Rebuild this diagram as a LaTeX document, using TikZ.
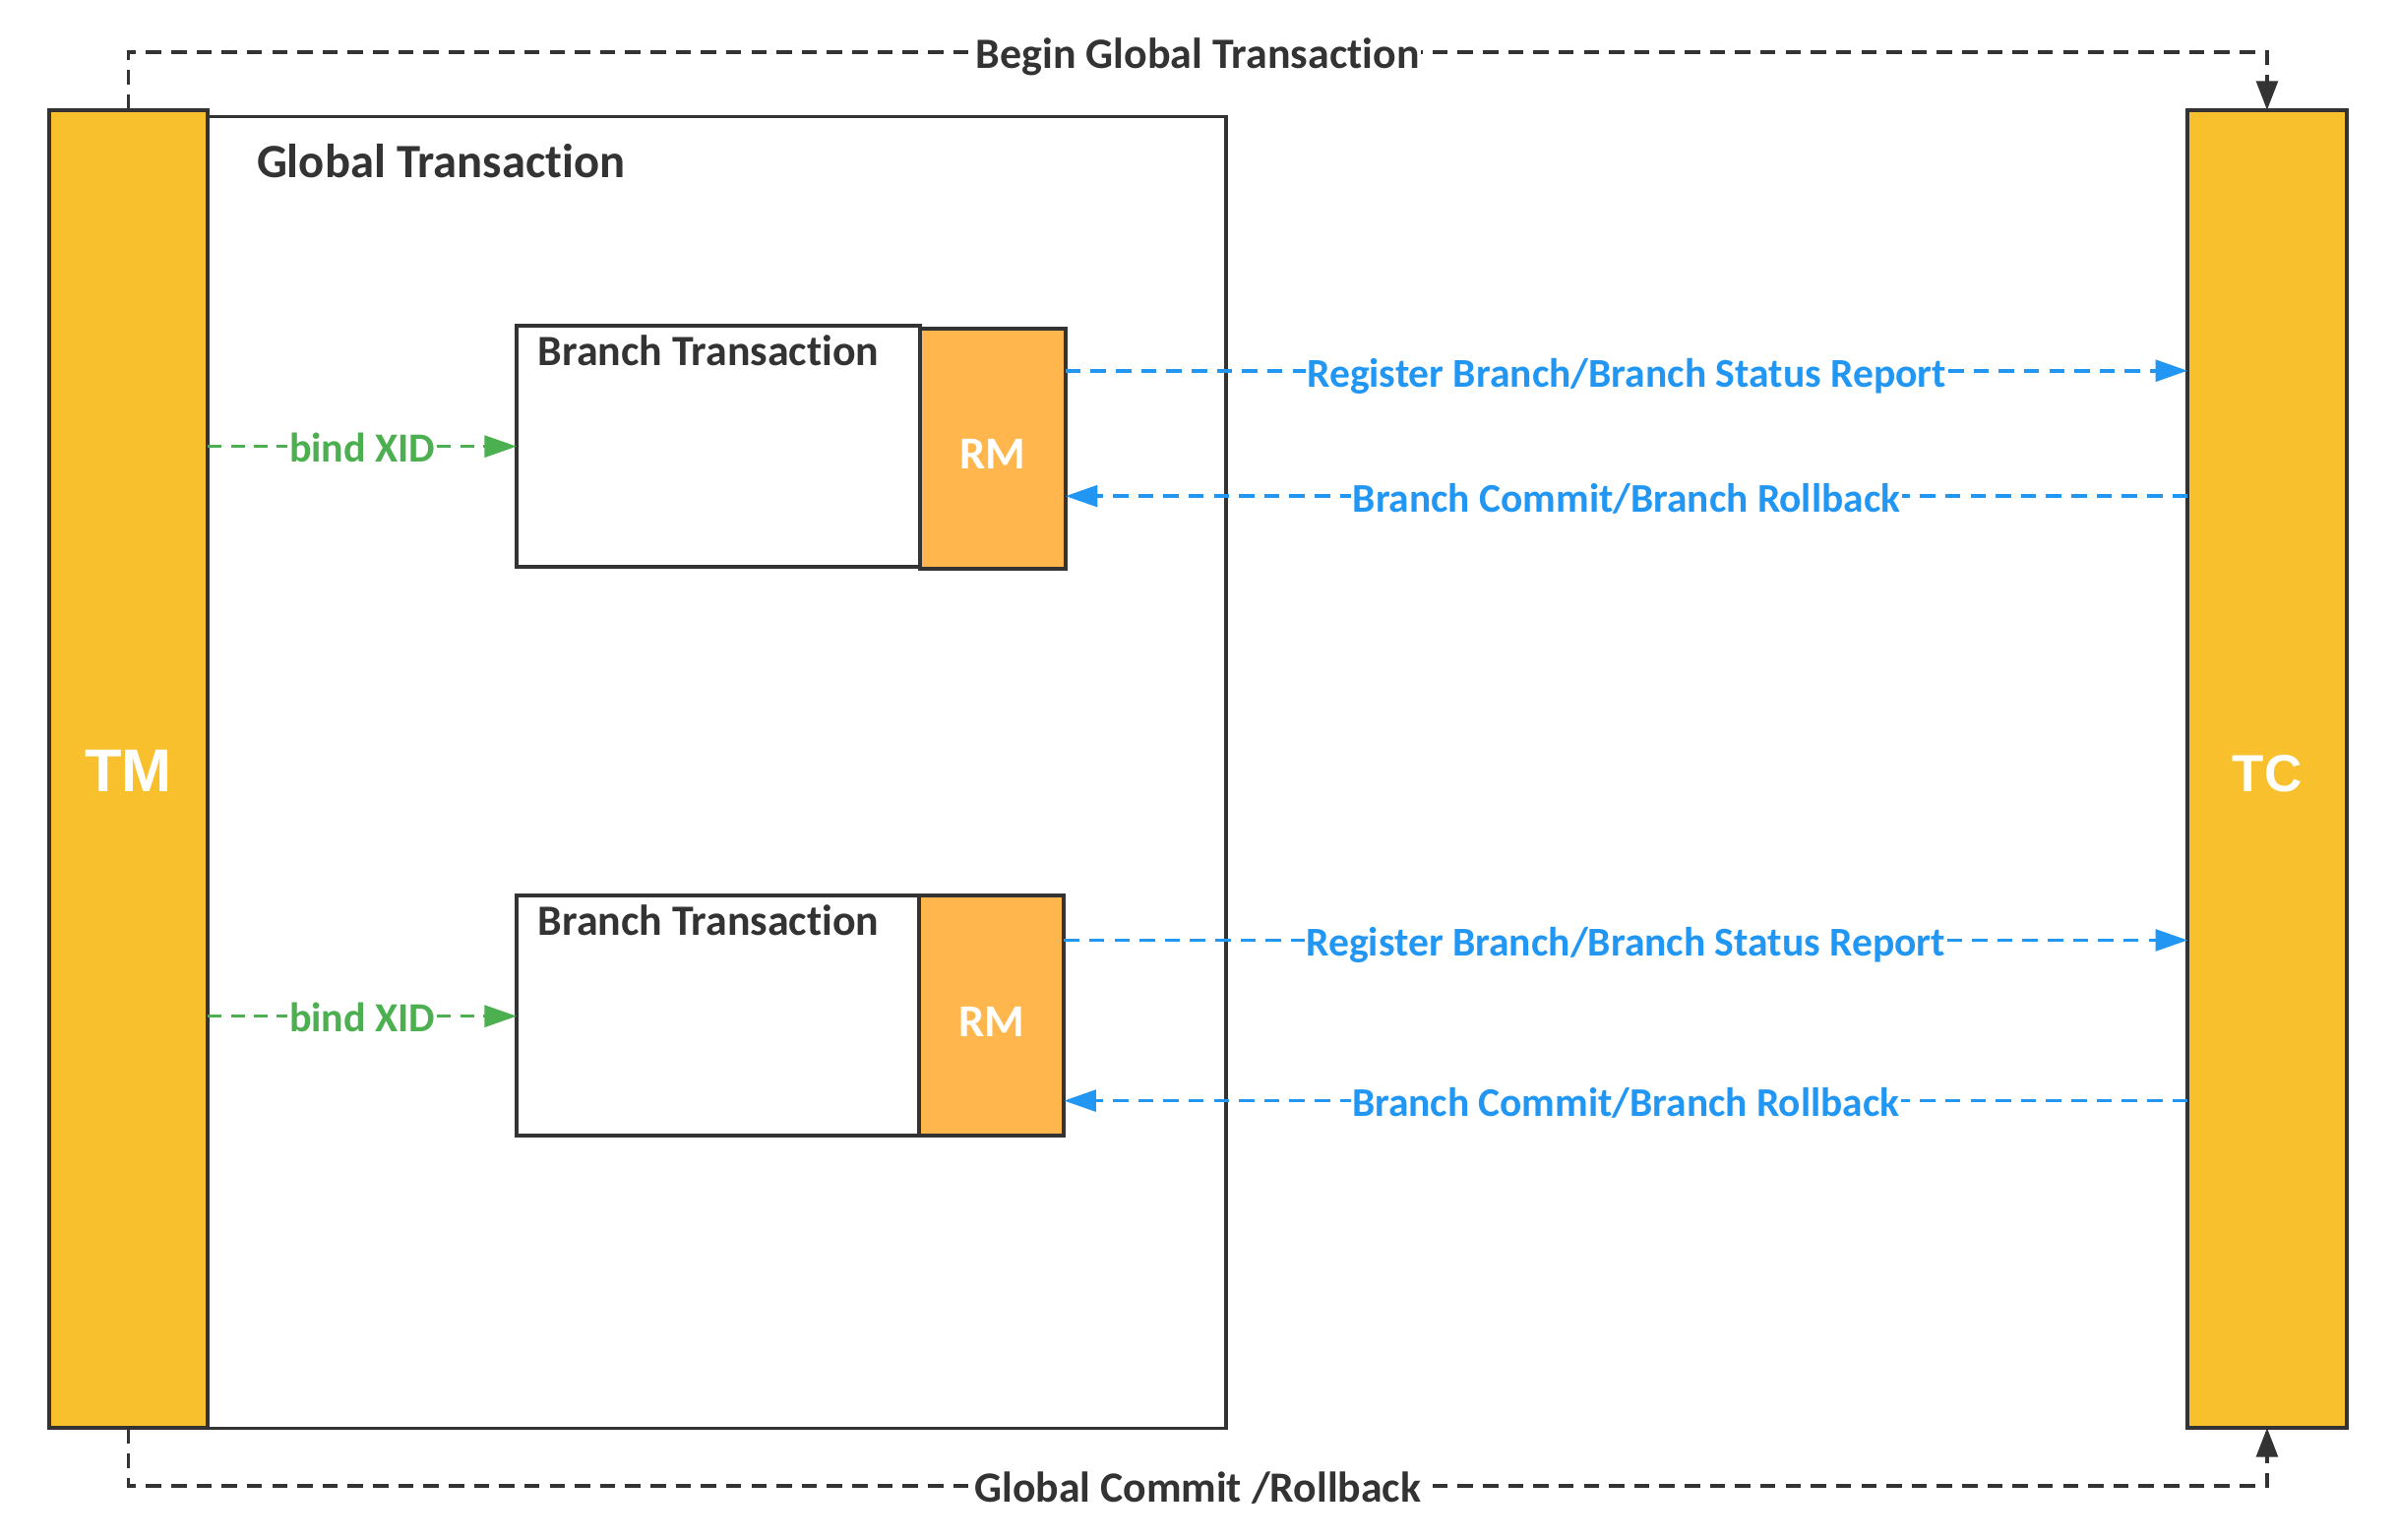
\documentclass[tikz,border=0pt]{standalone}
\usepackage{fontspec}
\setmainfont{Carlito}[Ligatures={NoCommon,NoRare,NoDiscretionary}]
\newfontfamily\tmfont{Liberation Sans}
\usetikzlibrary{arrows.meta,calc}
\definecolor{tmy}{HTML}{F9C02E}
\definecolor{rmo}{HTML}{FFB74D}
\definecolor{dk}{HTML}{333333}
\definecolor{bl}{HTML}{2196F3}
\definecolor{gr}{HTML}{4CAF50}
\newcommand\fitw[2]{\resizebox{#1pt}{!}{\bfseries #2}}
\begin{document}
\begin{tikzpicture}[x=1pt,y=-1pt,
  box/.style={draw=dk,line width=2.5pt,inner sep=0pt,outer sep=0pt},
  lane/.style={box,fill=tmy,minimum width=104pt,minimum height=862pt},
  rmbox/.style={box,fill=rmo,minimum width=95pt,minimum height=157pt},
  brbox/.style={box,fill=white,minimum height=157pt},
  txt/.style={inner sep=0pt,outer sep=0pt},
  lbl/.style={fill=white,inner sep=1pt,anchor=base,yshift=-10.5pt},
  gdash/.style={draw=gr,line width=2.3pt,dash pattern=on 9pt off 6pt,-{Triangle[length=21pt,width=14pt]}},
  bdash/.style={draw=bl,line width=2.3pt,dash pattern=on 10pt off 6.5pt,-{Triangle[length=21pt,width=14pt]}},
  kdash/.style={draw=dk,line width=2.2pt,dash pattern=on 10pt off 6.5pt,-{Triangle[length=19pt,width=14pt]}}]
\useasboundingbox[fill=white] (0,0) rectangle (1568,1007);
% global transaction box
\node[box,line width=2pt,minimum width=666pt,minimum height=858pt] (glob) at (469,505) {};
\node[txt,anchor=base west,text=dk] (globlbl) at (168,116) {\fitw{241}{Global Transaction}};
% TM / TC
\node[lane] (tm) at (84,503) {};
\node[lane] (tc) at (1483,503) {};
\node[txt,anchor=base,text=white] (tmlbl) at (84,518) {\tmfont\fitw{57}{TM}};
\node[txt,anchor=base,text=white] (tclbl) at (1483,518) {\tmfont\fitw{45.5}{TC}};
% branch 1
\node[brbox,minimum width=264pt,minimum height=158pt] (br1) at (470,292) {};
\node[rmbox] (rm1) at (649.5,293.5) {};
\node[txt,anchor=base west,text=dk] (br1lbl) at (352,239) {\fitw{223}{Branch Transaction}};
\node[txt,anchor=base,text=white] (rm1lbl) at (649.5,306.8) {\fitw{43}{RM}};
% branch 2
\node[brbox,minimum width=263pt] (br2) at (469.5,664.5) {};
\node[rmbox] (rm2) at (648.5,664.5) {};
\node[txt,anchor=base west,text=dk] (br2lbl) at (352,611.5) {\fitw{223}{Branch Transaction}};
\node[txt,anchor=base,text=white] (rm2lbl) at (648.5,678) {\fitw{43}{RM}};
% y levels
\coordinate (ytop) at (0,34);
\coordinate (ybot) at (0,972);
\coordinate (yb1) at (0,292);
\coordinate (yb2) at (0,664.7);
\coordinate (yr1) at (0,242.5);
\coordinate (yc1) at (0,324.5);
\coordinate (yr2) at (0,615);
\coordinate (yc2) at (0,720);
% bind XID
\draw[gdash] (tm.east |- yb1) -- node[lbl,text=gr] {\fitw{95.5}{bind XID}} (br1.west |- yb1);
\draw[gdash] (tm.east |- yb2) -- node[lbl,text=gr] {\fitw{95.5}{bind XID}} (br2.west |- yb2);
% RM <-> TC
\draw[bdash] (rm1.east |- yr1) -- node[lbl,text=bl] {\fitw{418}{Register Branch/Branch Status Report}} (tc.west |- yr1);
\draw[bdash] (tc.west |- yc1) -- node[lbl,text=bl] {\fitw{358}{Branch Commit/Branch Rollback}} (rm1.east |- yc1);
\draw[bdash] (rm2.east |- yr2) -- node[lbl,text=bl] {\fitw{418}{Register Branch/Branch Status Report}} (tc.west |- yr2);
\draw[bdash] (tc.west |- yc2) -- node[lbl,text=bl] {\fitw{358}{Branch Commit/Branch Rollback}} (rm2.east |- yc2);
% TM <-> TC
\draw[kdash] (tm.north) -- (tm.north |- ytop) -- node[lbl,text=dk] {\fitw{290}{Begin Global Transaction}} (tc.north |- ytop) -- (tc.north);
\draw[kdash] (tm.south) -- (tm.south |- ybot) -- node[lbl,text=dk] {\fitw{292}{Global Commit /Rollback}} (tc.south |- ybot) -- (tc.south);
\end{tikzpicture}
\end{document}
